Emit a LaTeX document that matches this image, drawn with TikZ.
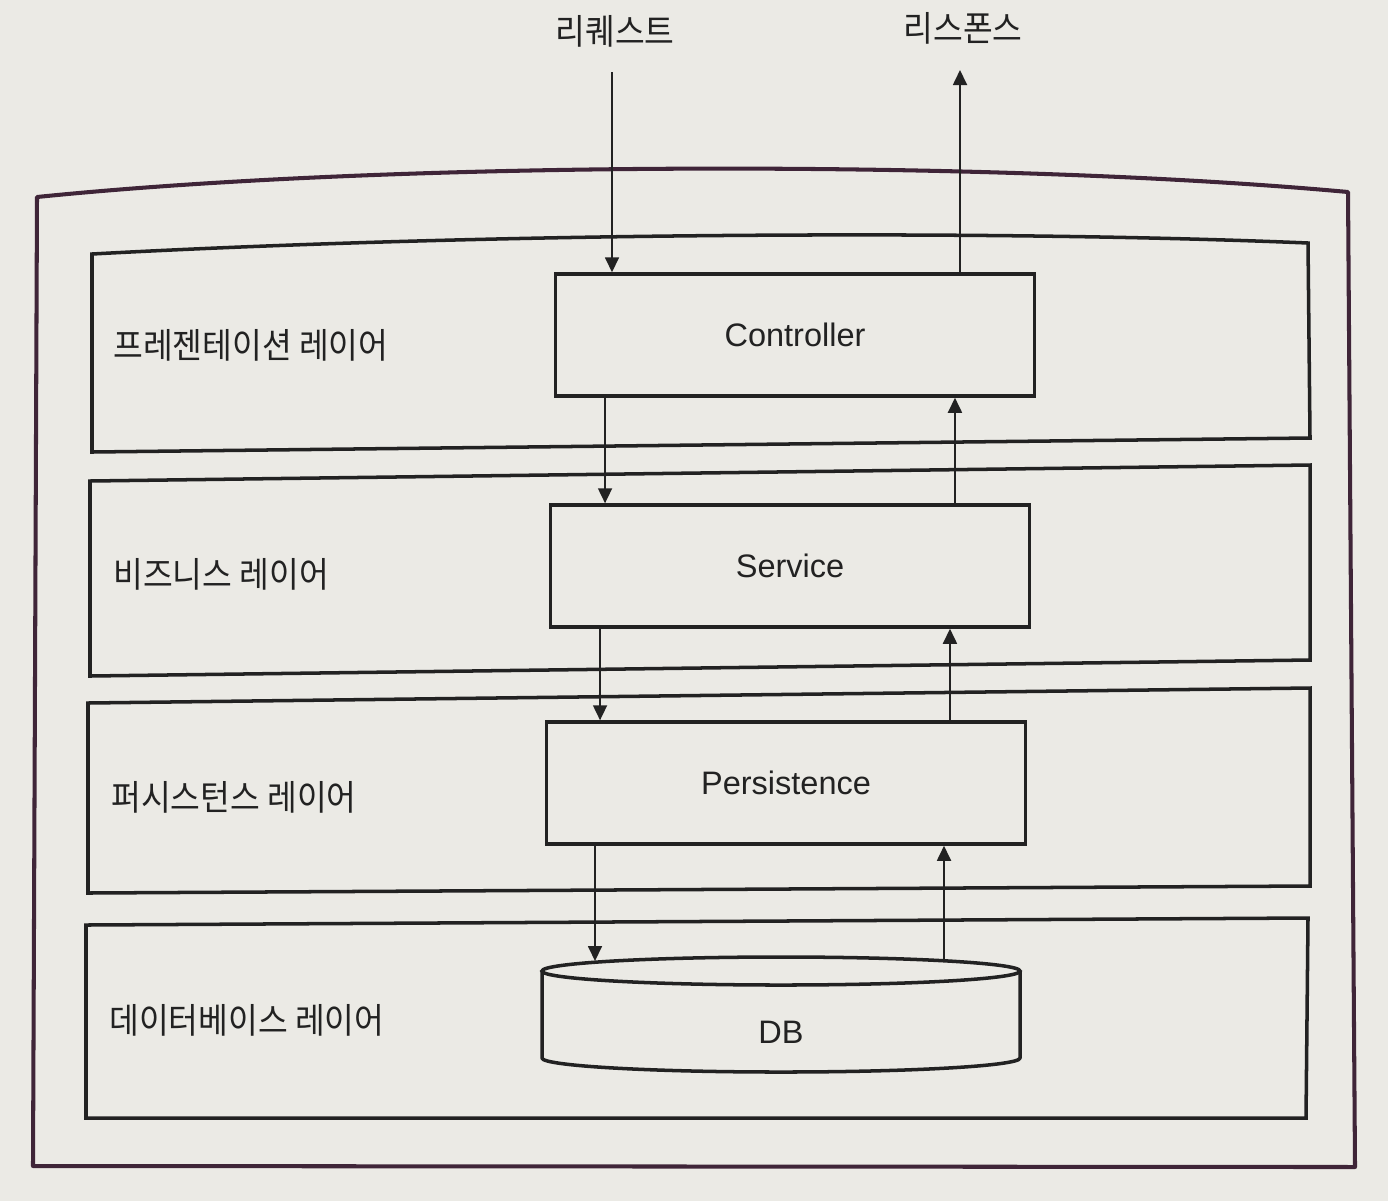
\documentclass[tikz,border=0pt]{standalone}
\usepackage{fontspec}
\setmainfont{Liberation Sans}
\newfontfamily\kr[FakeStretch=0.92]{Noto Sans CJK KR}
\usetikzlibrary{arrows.meta}
\definecolor{paper}{HTML}{EBEAE5}
\definecolor{ink}{HTML}{222222}
\definecolor{frame}{HTML}{3F2538}
\tikzset{
  layerbox/.style={draw=ink, line width=2pt},
  compbox/.style={draw=ink, line width=2pt, minimum width=9.58cm, minimum height=2.44cm, text=ink, font=\fontsize{18.5}{20}\selectfont, inner sep=0pt},
  layerlabel/.style={anchor=west, text=ink, font=\kr\fontsize{20}{22}\selectfont, inner sep=0pt},
  toplabel/.style={text=ink, font=\kr\fontsize{20}{22}\selectfont, inner sep=0pt},
  flow/.style={draw=ink, line width=1pt, -{Triangle[length=0.3cm,width=0.28cm]}},
}
\begin{document}
\begin{tikzpicture}[x=0.02cm, y=-0.02cm]
\fill[paper] (0,0) rectangle (1388,1201);
\useasboundingbox (0,0) rectangle (1388,1201);

% outer frame
\draw[frame, line width=2.3pt, line join=round]
  (37,197) .. controls (400,160) and (1000,160) .. (1348,192)
  -- (1355,1167) -- (33,1166) -- cycle;

% layers
\draw[layerbox] (92,254) .. controls (500,232) and (1000,230) .. (1308,243) -- (1310,438) -- (92,452) -- cycle;
\draw[layerbox] (90,481) -- (1310,465) -- (1310,660) -- (90,676) -- cycle;
\draw[layerbox] (88,703) -- (1310,688) -- (1310,886) -- (88,893) -- cycle;
\draw[layerbox] (86,925) -- (1308,918) -- (1306,1118) -- (86,1118) -- cycle;

\node[layerlabel] (lp) at (113,345) {프레젠테이션 레이어};
\node[layerlabel] (lb) at (113,574) {비즈니스 레이어};
\node[layerlabel] (lpe) at (111,797) {퍼시스턴스 레이어};
\node[layerlabel] (ld) at (109,1020) {데이터베이스 레이어};

% components
\node[compbox] (ctrl) at (795,335) {Controller};
\node[compbox] (svc) at (790,566) {Service};
\node[compbox] (pers) at (786,783) {Persistence};

% DB cylinder
\draw[ink, line width=2pt, line join=round]
  (542,971) -- (542,1058) arc[start angle=180, end angle=360, x radius=239, y radius=-14]
  -- (1020,971);
\draw[ink, line width=2pt] (781,971) ellipse[x radius=239, y radius=14];
\node[text=ink, font=\fontsize{18.5}{20}\selectfont, inner sep=0pt] (db) at (781,1032) {DB};
\coordinate (dbin) at (595,961);
\coordinate (dbout) at (944,961);

% top labels
\node[toplabel] (req) at (615,31) {리퀘스트};
\node[toplabel] (res) at (963,28) {리스폰스};
\coordinate (reqstart) at (612,72);
\coordinate (resend) at (960,70);

% flows
\draw[flow] (reqstart) -- (reqstart |- ctrl.north);
\draw[flow] (resend |- ctrl.north) -- (resend);
\draw[flow] ([xshift=-3.8cm]ctrl.south) -- ([xshift=-3.8cm]ctrl.south |- svc.north);
\draw[flow] ([xshift=3.3cm]svc.north) -- ([xshift=3.3cm]svc.north |- ctrl.south);
\draw[flow] ([xshift=-3.8cm]svc.south) -- ([xshift=-3.8cm]svc.south |- pers.north);
\draw[flow] ([xshift=3.28cm]pers.north) -- ([xshift=3.28cm]pers.north |- svc.south);
\draw[flow] (pers.south -| dbin) -- (dbin);
\draw[flow] (dbout) -- (pers.south -| dbout);
\end{tikzpicture}
\end{document}
